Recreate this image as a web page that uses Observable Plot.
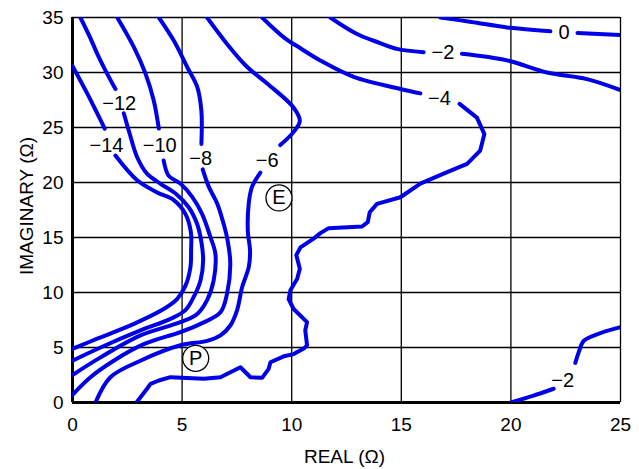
<!DOCTYPE html>
<html>
<head>
<meta charset="utf-8">
<script src="https://cdn.jsdelivr.net/npm/d3@7"></script>
<script src="https://cdn.jsdelivr.net/npm/@observablehq/plot@0.6"></script>
<style>
  html, body { margin: 0; padding: 0; background: white; }
</style>
</head>
<body>
<div id="chart"></div>
<script>
// Axis ticks
const xTicks = [0, 5, 10, 15, 20, 25];
const yTicks = [0, 5, 10, 15, 20, 25, 30, 35];
const xGrid = [5, 10, 15, 20, 25];
const yGrid = [5, 10, 15, 20, 25, 30, 35];

// Contour segments [real, imaginary] (gaps where labels sit)
const c0a = [[16.78,35],[18.2,34.6],[19.82,34.1],[21.8,33.75]];
const c0b = [[23.04,33.6],[25,33.4]];
const c2a = [[11.76,35],[12.98,33.5],[14.0,32.7],[14.8,32.15],[16.02,31.85]];
const c2b = [[17.77,31.7],[19.82,31.1],[21.65,30.0],[23.47,29.4],[25,28.4]];
const c2c = [[20,0],[21.0,0.6],[21.95,1.25]];
const c2d = [[22.94,3.6],[23.1,4.6],[23.32,5.6],[23.93,6.2],[25,6.85]];
const c4a = [[8.65,35],[9.64,33.2],[10.4,32.2],[11.3,31.1],[12.83,29.6],[14.96,28.5],[15.87,28.1]];
const c4b = [[17.66,27.15],[18.45,25.9],[18.79,24.4],[18.6,22.9],[18.0,21.7],[16.93,20.8],[15.87,19.9],[14.96,18.66],[13.89,18.06],[13.56,17.3],[13.47,16.4],[13.21,16.0],[11.69,15.85],[11.31,15.4],[11.0,14.9],[10.4,14.1],[10.21,13.4],[10.37,12.15],[10.25,11.25],[9.94,10.2],[9.86,9.4],[10.09,8.5],[10.7,7.3],[10.62,6.55],[10.7,5.2],[10.55,4.9],[10.09,4.4],[9.64,4.2],[9.03,3.66],[8.95,3.06],[8.65,2.24],[8.12,2.3],[7.66,3.2],[6.75,2.3],[5.99,2.15],[4.47,2.3],[3.94,2.0],[3.56,1.7],[3.4,1.25],[2.92,0]];
const c6a = [[6.14,35],[7.05,32.6],[7.97,30.5],[8.88,29.0],[10.09,26.8],[10.37,25.6],[10.09,24.6],[9.48,23.4]];
const c6b = [[8.57,20.9],[8.19,19.6],[8.04,18.1],[8.0,15.5],[8.1,13.8],[8.04,12.3],[7.74,10.5],[7.51,8.4],[7.2,7.0],[6.75,6.1],[6.14,5.6],[4.92,5.2],[3.1,3.8],[1.73,2.3],[1.05,0]];
const c8a = [[3.94,35],[4.62,32.9],[5.23,30.5],[5.69,28.7],[5.88,26.5],[5.88,23.5]];
const c8b = [[5.94,21.2],[6.22,19.6],[6.6,18.1],[6.9,16.2],[7.08,14.7],[7.2,12.6],[7.05,9.9],[6.75,8.2],[5.84,7.15],[4.92,6.4],[3.25,5.3],[1.88,3.8],[0.82,2.3],[0,0.7]];
const c10a = [[2.04,35],[2.8,32.3],[3.33,29.9],[3.7,27.5],[3.94,24.9]];
const c10b = [[4.16,22.0],[4.39,20.6],[4.92,19.9],[5.46,18.7],[5.91,17.15],[6.3,15.0],[6.52,13.5],[6.44,11.1],[6.14,9.3],[5.69,8.05],[4.92,7.3],[3.1,6.1],[1.28,4.1],[0,2.5]];
const c12a = [[0.36,35],[0.8,33.2],[1.13,31.7],[1.5,30.2],[1.96,28.5]];
const c12b = [[2.34,26.3],[2.6,24.5],[2.95,22.3],[3.4,20.8],[4.0,19.9],[4.7,19.0],[5.3,17.75],[5.69,16.2],[5.88,14.6],[5.96,12.9],[5.84,11.1],[5.53,9.6],[5.15,8.4],[4.47,7.6],[3.1,6.55],[1.28,5.0],[0,3.8]];
const c14a = [[0,30.6],[0.67,28.1],[1.1,26.4],[1.47,24.9]];
const c14b = [[1.96,22.45],[2.95,20.2],[3.86,19.1],[4.62,18.4],[5.15,17.15],[5.4,15.5],[5.41,13.8],[5.38,12.3],[5.15,10.6],[4.77,9.4],[4.16,8.5],[2.8,7.15],[1.13,5.8],[0,4.88]];

// Contour labels
const labelX = [1.55, 2.13, 3.98, 5.85, 8.88, 16.74, 16.9, 22.42, 22.36];
const labelY = [23.4, 27.15, 23.4, 22.15, 22.0, 27.6, 31.85, 33.6, 2.0];
const labelText = ["\u221214", "\u221212", "\u221210", "\u22128", "\u22126", "\u22124", "\u22122", "0", "\u22122"];

// Marked points
const ptX = [9.42, 5.62];
const ptY = [18.6, 4.02];
const ptText = ["E", "P"];

const smooth = [c0a, c0b, c2a, c2b, c2c, c2d, c4a, c6a, c6b, c8a, c8b, c10a, c10b, c12a, c12b, c14a, c14b];
const rough = [c4b];

const labels = labelText.map((t, i) => ({x: labelX[i], y: labelY[i], t}));
const pts = ptText.map((t, i) => ({x: ptX[i], y: ptY[i], t}));

const BLUE = "#0000e8";
const FONT = "'Liberation Sans Narrow', 'Arial Narrow', 'Liberation Sans', Arial, sans-serif";

const lineMarks = [
  ...smooth.map(seg => Plot.line(seg, {x: d => d[0], y: d => d[1], stroke: BLUE, strokeWidth: 4, curve: "catmull-rom", clip: true})),
  ...rough.map(seg => Plot.line(seg, {x: d => d[0], y: d => d[1], stroke: BLUE, strokeWidth: 4, curve: "linear", clip: true}))
];

const chart = Plot.plot({
  width: 639,
  height: 469,
  marginLeft: 72,
  marginRight: 19,
  marginTop: 17,
  marginBottom: 67,
  x: {domain: [0, 25]},
  y: {domain: [0, 35]},
  style: {fontFamily: FONT, fontSize: "19px", background: "white", color: "black", overflow: "visible"},
  marks: [
    Plot.ruleX(xGrid, {stroke: "black", strokeWidth: 1.3}),
    Plot.ruleY(yGrid, {stroke: "black", strokeWidth: 1.3}),
    Plot.ruleX([0], {stroke: "black", strokeWidth: 3}),
    Plot.ruleY([0], {stroke: "black", strokeWidth: 3}),
    ...lineMarks,
    Plot.text(labels, {x: "x", y: "y", text: "t", fontSize: 20, fill: "black"}),
    Plot.dot(pts, {x: "x", y: "y", r: 13, stroke: "black", strokeWidth: 1.3, fill: "white"}),
    Plot.text(pts, {x: "x", y: "y", text: "t", fontSize: 20, fill: "black"}),
    Plot.axisX(xTicks, {tickSize: 0, tickPadding: 15, fontSize: 19, label: null}),
    Plot.axisY(yTicks, {tickSize: 0, tickPadding: 9, fontSize: 19, label: null}),
    Plot.text(["REAL (\u03A9)"], {frameAnchor: "bottom", text: d => d, textAnchor: "middle", lineAnchor: "middle", dy: 54, dx: -2, fontSize: 19}),
    Plot.text(["IMAGINARY (\u03A9)"], {frameAnchor: "left", text: d => d, textAnchor: "middle", lineAnchor: "middle", rotate: -90, dx: -46, dy: -4, fontSize: 19})
  ]
});
document.getElementById("chart").appendChild(chart);
</script>
</body>
</html>
